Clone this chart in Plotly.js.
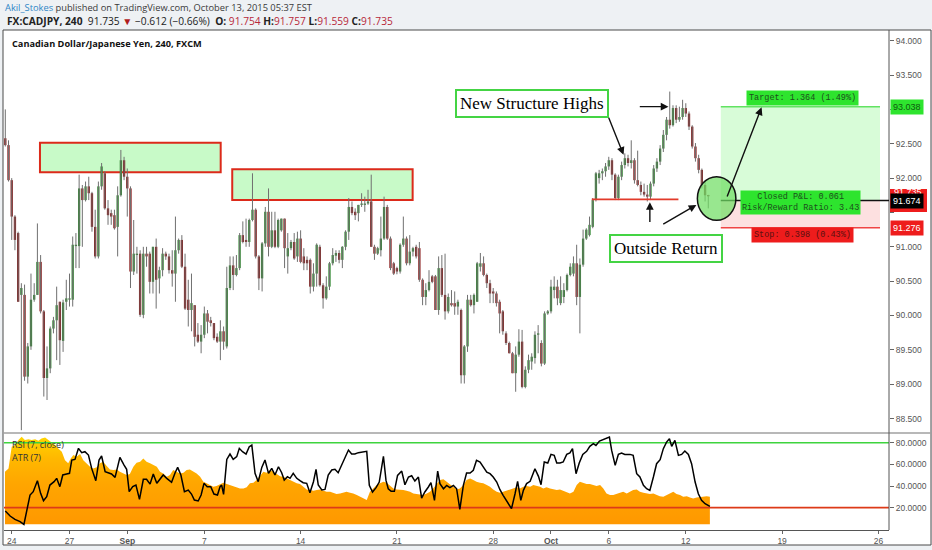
<!DOCTYPE html>
<html>
<head>
<meta charset="utf-8">
<script src="https://cdn.plot.ly/plotly-3.0.1.min.js"></script>
<style>
html,body{margin:0;padding:0;background:#eef1f4;}
#chart{width:932px;height:550px;}
</style>
</head>
<body>
<div id="chart"></div>
<script>
// ---------- data (4h bars, FX:CADJPY, Aug 24 - Oct 13 2015) ----------
const barOpen = [
92.58,92.48,91.97,91.44,91.20,90.30,90.30,89.11,89.55,90.23,
90.30,90.78,90.06,89.09,89.23,89.81,89.93,90.20,89.63,90.20,
90.23,90.23,91.01,91.01,91.85,91.68,91.88,91.78,91.29,90.86,
91.88,92.07,91.56,91.49,91.46,91.29,91.75,92.26,92.02,91.85,
90.64,90.88,90.90,90.01,90.90,90.90,90.49,91.00,90.54,90.66,
90.90,90.86,90.66,90.61,90.95,91.10,90.71,90.23,90.08,90.15,
89.72,89.62,89.72,90.03,89.93,89.89,89.69,89.62,89.77,89.55,
90.40,90.73,90.59,90.69,91.17,91.10,91.07,91.39,91.54,90.86,
90.54,91.05,91.51,91.00,91.24,91.00,91.24,91.41,90.86,90.98,
91.07,90.86,91.12,90.86,90.81,90.81,90.42,90.61,91.00,90.44,
90.25,90.42,90.76,90.87,90.91,90.81,91.00,91.22,91.58,91.51,
91.49,91.61,91.61,91.63,91.66,91.00,90.90,90.95,91.12,91.58,
91.12,90.76,90.69,90.64,91.03,91.12,90.76,90.93,91.00,90.98,
90.52,90.27,90.37,90.57,90.57,90.08,90.69,90.30,90.06,90.18,
90.18,90.13,90.08,89.13,89.55,90.23,90.15,90.20,90.71,90.76,
90.59,90.47,90.35,90.32,90.20,90.06,89.74,89.60,89.45,89.16,
89.43,89.62,88.96,89.21,89.33,89.38,89.72,89.60,89.30,90.03,
90.06,90.37,90.42,90.18,90.27,90.37,90.59,90.61,90.76,90.27,
90.74,91.12,91.17,91.29,91.68,92.00,92.07,92.10,92.17,92.26,
92.05,91.71,92.02,92.19,92.29,92.22,92.26,91.97,91.90,91.80,
91.76,91.73,91.92,92.14,92.24,92.43,92.63,92.85,92.77,93.02,
92.85,92.89,93.02,92.94,92.75,92.46,92.29,92.12,91.90,91.754
];
const barHigh = [
93.00,92.55,92.00,91.46,91.22,90.47,90.45,89.60,90.61,90.47,
91.34,90.88,90.08,89.55,89.84,89.98,90.42,90.20,90.23,90.52,
90.61,91.15,91.20,92.05,91.90,91.95,92.02,91.80,91.54,91.95,
92.22,92.10,91.68,91.54,91.54,91.88,92.41,92.31,92.14,91.88,
91.39,91.00,90.95,91.00,91.00,90.93,91.00,91.12,90.71,90.98,
90.93,90.90,90.95,91.44,91.12,91.17,90.90,90.52,90.61,90.15,
89.89,89.86,90.13,90.08,89.98,89.89,89.74,89.93,89.84,90.71,
90.86,90.86,90.88,91.20,91.37,91.41,91.41,92.07,91.56,90.88,
91.07,91.58,91.85,91.51,91.51,91.41,91.41,91.41,91.20,91.10,
91.20,91.22,91.24,90.98,90.86,90.83,90.76,91.05,91.03,90.47,
90.57,90.78,90.98,90.95,90.95,91.01,91.24,91.71,91.66,91.56,
91.61,91.78,91.73,91.83,92.05,91.03,91.00,91.44,91.73,91.61,
91.15,90.78,90.71,91.05,91.44,91.15,91.17,91.00,91.03,91.07,
90.54,90.47,90.66,90.59,90.59,90.86,90.88,90.90,90.32,90.37,
90.35,90.23,90.10,89.57,90.30,90.30,90.32,90.78,90.91,90.86,
90.61,90.52,90.40,90.35,90.23,90.08,89.77,89.62,89.47,89.55,
89.80,89.79,89.26,89.43,89.45,89.77,89.86,89.64,90.06,90.08,
90.52,90.57,90.52,90.57,90.47,90.61,90.76,90.86,91.03,90.83,
91.25,91.27,91.44,91.71,92.09,92.12,92.14,92.22,92.31,92.29,
92.07,92.05,92.24,92.36,92.34,92.55,92.29,92.40,91.95,91.92,
91.90,91.95,92.19,92.29,92.48,92.70,92.89,93.26,93.06,93.06,
93.04,93.14,93.09,92.97,92.77,92.51,92.34,92.14,91.95,91.757
];
const barLow = [
92.46,91.95,91.10,90.95,90.20,88.33,89.05,89.01,89.50,90.20,
90.30,90.03,88.82,88.77,89.16,89.74,89.35,89.28,89.47,90.08,
90.13,90.13,90.69,90.69,91.00,91.66,91.68,91.22,90.83,90.83,
91.83,91.54,91.32,91.32,91.25,90.86,91.73,91.97,91.44,90.40,
90.59,90.61,89.98,89.96,90.71,90.32,90.32,90.10,90.32,90.57,
90.81,90.61,90.42,90.20,90.90,90.69,90.08,89.84,89.77,89.55,
89.60,89.45,89.67,89.74,89.84,89.64,89.60,89.35,89.50,89.52,
90.37,90.37,90.57,90.66,91.05,91.00,91.00,91.37,90.83,90.37,
90.35,91.00,90.86,90.98,90.98,90.98,91.22,90.69,90.61,90.95,
90.81,90.78,90.76,90.66,90.66,90.32,90.35,90.42,90.42,90.10,
90.23,90.37,90.73,90.78,90.76,90.69,90.95,91.10,91.46,91.39,
91.37,91.58,91.51,91.61,91.00,90.81,90.88,90.86,91.10,91.10,
90.66,90.59,90.60,90.61,91.00,90.73,90.73,90.86,90.83,90.49,
90.15,90.15,90.35,90.47,90.08,90.01,90.27,89.94,90.03,90.13,
90.01,90.01,89.01,89.01,89.47,90.13,90.03,90.20,90.64,90.57,
90.40,90.18,90.18,90.13,89.74,89.72,89.57,89.45,89.16,88.89,
89.40,88.94,88.94,89.16,89.21,89.30,89.45,89.26,89.28,90.01,
90.03,90.25,90.15,90.15,90.18,90.35,90.57,90.57,90.15,89.74,
90.71,91.10,91.15,91.27,91.66,91.92,91.97,92.02,92.12,91.97,
91.68,91.68,91.97,92.14,92.17,92.14,91.92,91.88,91.75,91.73,
91.66,91.68,91.88,92.09,92.19,92.38,92.55,92.72,92.75,92.80,
92.82,92.85,92.89,92.70,92.43,92.24,92.07,91.85,91.66,91.559
];
const barClose = [
92.48,91.97,91.44,91.10,90.20,90.40,89.11,89.55,90.23,90.30,
90.78,90.06,89.09,89.23,89.81,89.93,90.15,89.64,90.19,90.25,
90.25,91.03,91.03,91.85,91.68,91.88,91.78,91.29,90.86,91.88,
92.17,91.56,91.46,91.44,91.27,91.75,92.26,92.02,91.85,90.64,
90.90,90.90,90.01,90.90,90.86,90.49,91.00,90.52,90.66,90.90,
90.86,90.66,90.61,90.95,91.10,90.71,90.10,90.08,90.18,89.69,
89.62,89.72,90.03,89.91,89.89,89.67,89.62,89.77,89.62,90.40,
90.73,90.59,90.69,91.17,91.07,91.07,91.39,91.54,90.86,90.54,
91.05,91.51,91.00,91.24,91.00,91.39,91.41,90.98,90.98,91.07,
90.83,91.12,90.78,90.76,90.76,90.42,90.61,91.03,90.44,90.25,
90.42,90.76,90.88,90.91,90.81,91.00,91.22,91.58,91.49,91.46,
91.61,91.63,91.63,91.66,91.00,90.90,90.98,91.12,91.58,91.12,
90.69,90.61,90.64,91.03,91.12,90.76,90.93,90.98,90.86,90.52,
90.27,90.37,90.49,90.49,90.08,90.69,90.30,90.06,90.27,90.15,
90.13,90.20,89.13,89.55,90.23,90.15,90.30,90.76,90.76,90.59,
90.47,90.32,90.32,90.18,90.03,89.77,89.60,89.45,89.16,89.43,
89.62,88.96,89.21,89.35,89.40,89.72,89.74,89.30,90.03,90.06,
90.42,90.42,90.25,90.37,90.37,90.59,90.71,90.76,90.27,90.74,
91.12,91.25,91.32,91.68,92.07,92.07,92.10,92.17,92.26,92.05,
91.71,92.02,92.19,92.29,92.22,92.26,91.97,91.90,91.80,91.76,
91.73,91.92,92.14,92.24,92.43,92.63,92.85,92.77,93.02,92.85,
92.89,93.02,92.94,92.75,92.46,92.29,92.12,91.90,91.75,91.735
];

// RSI(7, close) readings: [bar, value]
const rsiPoints = [
[0,16.9],[1.5,12.3],[3,9.2],[4.6,7.1],[5.8,4.6],[6.7,16.3],[7.7,31.7],[8.7,34.8],[10,44.9],[11,33.2],
[11.9,26.5],[12.9,30.2],[13.9,40.9],[15.2,44.0],[16,47.1],[17,39.4],[17.9,50.2],[19.1,51.1],[20,51.7],[20.7,64.0],
[21.7,64.6],[22.8,74.8],[23.8,70.8],[24.8,71.7],[25.9,68.6],[26.9,56.3],[28.2,44.9],[29.2,64.0],[30,67.7],[31.1,53.2],
[32.1,52.3],[33.1,51.1],[34.2,48.0],[35.7,66.5],[37,59.4],[37.8,55.4],[38.6,34.8],[39.7,39.4],[40.7,40.9],[41.8,27.7],
[43,46.2],[44,46.2],[45.1,41.8],[46.1,51.1],[47.2,42.5],[48.2,46.2],[49.2,50.2],[50.3,47.1],[51.8,43.4],[52.9,52.3],
[53.7,57.2],[54.7,50.2],[55.8,34.8],[57,36.3],[58,32.6],[58.9,27.1],[60.1,26.2],[61,31.7],[61.9,42.5],[62.9,39.4],
[64,39.4],[65,32.6],[66.1,31.7],[66.9,39.4],[67.4,40.9],[68,32.3],[69,64.6],[70,69.5],[71,64.6],[72.1,67.1],
[72.9,74.8],[73.9,71.7],[75,69.5],[76,76.3],[76.8,77.8],[77.8,51.7],[78.8,44.0],[79.9,57.2],[80.9,64.0],[82,51.7],
[83,56.3],[84,50.2],[85.1,57.8],[86.1,52.3],[86.9,45.5],[87.9,48.6],[88.7,47.1],[89.7,51.7],[90.8,47.1],[91.8,44.9],
[92.8,43.1],[93.9,42.5],[94.9,33.8],[96,44.0],[96.8,55.4],[97.5,40.9],[98.6,36.3],[99.6,36.9],[100.6,50.2],[101.7,54.8],
[102.7,55.4],[103.7,52.3],[104.8,59.4],[105.8,67.1],[106.9,73.2],[107.9,69.5],[108.9,69.5],[110,70.8],[111,71.4],[112.6,72.0],
[113.4,40.6],[114.4,34.5],[115.5,38.5],[116.5,43.7],[117.8,67.4],[118.6,45.2],[119.3,37.5],[120.2,35.1],[121.2,35.1],[122.2,49.8],
[123.5,53.8],[124.5,41.2],[125.6,48.3],[126.6,49.5],[127.6,44.6],[128.7,48.3],[129.7,28.9],[130.7,34.5],[131.8,39.1],[132.6,43.1],
[133.7,26.8],[134.7,53.8],[135.4,42.2],[136.5,37.5],[137.5,40.6],[138.5,38.5],[139.6,40.6],[140.6,37.5],[141.6,18.5],[142.7,40.6],
[143.7,52.0],[144.8,52.0],[145.8,54.5],[146.8,63.7],[147.9,62.2],[148.9,57.5],[150,52.9],[151,51.4],[152,48.3],[153.1,43.7],
[154.1,36.6],[155.1,31.4],[156.2,25.8],[157.7,19.1],[158.8,32.9],[159.6,44.3],[160.6,26.8],[161.4,36.0],[162.4,42.2],[163.5,44.3],
[165,56.0],[166.1,48.9],[166.9,41.2],[167.9,62.2],[169,61.2],[170,69.2],[171,68.3],[171.8,61.2],[172.8,61.2],[173.8,62.2],
[174.9,69.2],[175.9,70.5],[176.7,74.5],[177.8,51.4],[178.8,61.2],[179.9,69.2],[181.1,72.0],[182.1,76.6],[183.2,79.1],[184,77.5],
[185.1,81.5],[186.3,82.8],[187.3,83.7],[188.2,85.2],[188.9,72.9],[190,59.1],[191,69.2],[192,70.5],[193,69.2],[194.6,69.2],
[195.6,68.3],[196.7,51.4],[197.7,48.3],[198.8,40.6],[199.8,37.5],[200.8,36.0],[201.9,48.3],[202.9,60.6],[204,64.3],[205,74.5],
[206,80.6],[206.9,83.7],[207.6,76.6],[208.6,82.2],[209.7,68.3],[210.7,69.2],[211.7,72.3],[212.8,69.2],[213.8,60.6],[214.9,43.7],
[215.9,32.9],[216.9,26.8],[218,23.7],[219.5,21.2]
];

// ATR(7) readings: [bar, value]
const atrPoints = [
[-0.1,0.329],[1,0.349],[2,0.485],[3,0.495],[4.1,0.527],[5.1,0.547],[6.1,0.527],[7.2,0.531],[8.2,0.527],[9.3,0.531],
[10.3,0.522],[11.3,0.537],[12.4,0.543],[13.4,0.527],[14.4,0.516],[15.5,0.495],[16.5,0.474],[17.6,0.454],[18.6,0.401],[19.6,0.381],
[20.4,0.412],[21.2,0.433],[22.2,0.422],[23.3,0.439],[24.3,0.401],[25.3,0.381],[26.4,0.360],[27.4,0.349],[28.5,0.356],[29.5,0.381],
[30.5,0.391],[31.6,0.364],[32.6,0.343],[33.7,0.339],[34.7,0.343],[35.7,0.329],[36.8,0.318],[37.8,0.308],[38.8,0.314],[39.9,0.360],
[40.9,0.385],[42,0.391],[43,0.412],[44,0.391],[45.1,0.381],[46.1,0.370],[47.2,0.360],[48.2,0.329],[49.2,0.318],[50.3,0.297],
[51.3,0.308],[52.3,0.339],[53.4,0.329],[54.4,0.318],[55.5,0.322],[56.5,0.339],[57.5,0.343],[58.6,0.329],[59.6,0.318],[60.7,0.297],
[61.7,0.266],[62.7,0.256],[63.8,0.245],[64.8,0.235],[65.8,0.239],[66.9,0.252],[67.9,0.260],[69,0.252],[70,0.245],[71,0.239],
[72.1,0.231],[73.1,0.224],[74.2,0.224],[75.2,0.231],[76.2,0.256],[77.3,0.260],[78.3,0.277],[79.3,0.301],[80.4,0.329],[81.4,0.322],
[82.5,0.339],[83.5,0.329],[84.5,0.318],[85.6,0.301],[86.6,0.297],[87.6,0.287],[88.7,0.277],[89.7,0.266],[90.8,0.256],[91.8,0.252],
[92.8,0.235],[93.9,0.218],[94.9,0.214],[96,0.210],[97,0.214],[98,0.218],[99.1,0.210],[100.1,0.204],[101.2,0.204],[102.2,0.197],
[103.2,0.189],[104.3,0.193],[105.3,0.197],[106.3,0.204],[107.4,0.197],[108.4,0.193],[109.5,0.183],[110.5,0.172],[111.5,0.162],[112.6,0.152],
[113.6,0.204],[114.6,0.224],[115.7,0.245],[116.7,0.256],[117.8,0.266],[118.8,0.260],[119.8,0.245],[120.9,0.224],[121.9,0.218],[123,0.218],
[124,0.214],[125,0.210],[126.1,0.204],[127.1,0.193],[128.1,0.189],[129.2,0.183],[130.2,0.183],[131.3,0.193],[132.3,0.204],[133.3,0.224],
[134.4,0.256],[135.4,0.277],[136.5,0.281],[137.5,0.266],[138.5,0.252],[139.6,0.235],[140.6,0.218],[141.6,0.224],[142.7,0.245],[143.7,0.277],
[144.8,0.287],[145.8,0.277],[146.8,0.266],[147.9,0.260],[148.9,0.256],[150,0.245],[151,0.235],[152,0.218],[153.1,0.204],[154.1,0.197],
[155.1,0.204],[156.2,0.214],[157.2,0.218],[158.3,0.224],[159.3,0.231],[160.3,0.224],[161.4,0.235],[162.4,0.239],[163.5,0.235],[164.5,0.245],
[165.5,0.239],[166.6,0.235],[167.6,0.224],[168.6,0.231],[169.7,0.224],[170.7,0.218],[171.8,0.214],[172.8,0.218],[173.8,0.210],[174.9,0.204],
[175.9,0.193],[177,0.204],[178,0.245],[179,0.266],[180.1,0.260],[181.1,0.252],[182.1,0.252],[183.2,0.245],[184.2,0.239],[185.3,0.245],
[186.3,0.224],[187.3,0.193],[188.4,0.183],[189.4,0.183],[190.5,0.193],[191.5,0.197],[192.5,0.204],[193.6,0.193],[194.6,0.204],[195.6,0.214],
[196.7,0.218],[197.7,0.204],[198.8,0.197],[199.8,0.193],[200.8,0.189],[201.9,0.193],[202.9,0.183],[203.9,0.176],[205,0.172],[206,0.183],
[207.1,0.197],[208.1,0.204],[209.1,0.189],[210.2,0.183],[211.2,0.172],[212.3,0.176],[213.3,0.168],[214.3,0.162],[215.4,0.168],[216.4,0.172],
[217.5,0.172],[218.5,0.176],[219.5,0.172]
];

// time-axis labels (bar positions of day starts)
const dayTickBars = [2,20,38,62,92,122,152,170,188,212,242,272];
const dayTickText = ['24','27','<b>Sep</b>','7','14','21','28','<b>Oct</b>','6','12','19','26'];
const priceTicks = [88.5,89,89.5,90,90.5,91,91.5,92,92.5,93,93.5,94];
// labels hidden under the position-tool price tags in the reference
const priceTickText = ['88.500','89.000','89.500','90.000','90.500','91.000','','92.000','92.500','','93.500','94.000'];
const rsiTicks = [20,40,60,80];
const rsiLevels = {upper:80, lower:20};

// drawings (in bar / price units)
const structureZones = [
  {from:10.8, to:67.1, low:92.084, high:92.515},
  {from:70.7, to:126.9, low:91.681, high:92.128}
];
const supportLine = {from:182.7, to:209.7, price:91.69};
const trade = {from:222.9, to:272.5, entry:91.674, target:93.038, stop:91.276, last:91.735};
const returnCircle = {bar:221.6, price:91.703, halfBars:6.0, halfPrice:0.318};
const arrows = [
  {fromBar:187.8, fromPrice:92.90, toBar:192.6, toPrice:92.34},
  {fromBar:197.2, fromPrice:93.04, toBar:206.6, toPrice:93.04},
  {fromBar:200.8, fromPrice:91.34, toBar:200.8, toPrice:91.65},
  {fromBar:204.5, fromPrice:91.317, toBar:215.3, toPrice:91.61},
  {fromBar:224.7, fromPrice:91.71, toBar:235.6, toPrice:93.03}
];

// ---------- build ----------
const X_MIN = -0.405, X_MAX = 275.3;
const UP = '#368a36', DOWN = '#8a1c1c';
const barIndex = barOpen.map((_, i) => i);
const wickX = [], wickY = [];
barIndex.forEach(i => { wickX.push(i, i, null); wickY.push(barLow[i], barHigh[i], null); });
const bodyBase = barIndex.map(i => Math.min(barOpen[i], barClose[i]));
const bodySize = barIndex.map(i => Math.max(Math.abs(barClose[i] - barOpen[i]), 0.012));
const bodyColor = barIndex.map(i => barClose[i] >= barOpen[i] ? UP : DOWN);

const traces = [
  {type:'scatter', mode:'lines', x:wickX, y:wickY, xaxis:'x', yaxis:'y',
   line:{color:'#707070', width:1}, hoverinfo:'skip', connectgaps:false},
  {type:'bar', x:barIndex, y:bodySize, base:bodyBase, width:0.72, xaxis:'x', yaxis:'y',
   marker:{color:bodyColor, line:{width:0}}, hoverinfo:'skip'},
  {type:'scatter', mode:'lines', x:atrPoints.map(p=>p[0]), y:atrPoints.map(p=>p[1]), xaxis:'x', yaxis:'y2',
   fill:'tozeroy', line:{width:0, color:'#ffa800'}, fillcolor:'#ffa800',
   fillgradient:{type:'vertical', start:0, stop:0.55,
     colorscale:[[0,'#ff9800'],[0.45,'#ffa500'],[0.75,'#ffb800'],[1,'#ffd500']]},
   hoverinfo:'skip'},
  {type:'scatter', mode:'lines', x:[X_MIN, X_MAX], y:[rsiLevels.upper, rsiLevels.upper], xaxis:'x', yaxis:'y3',
   line:{color:'#3ed43e', width:1.6}, hoverinfo:'skip'},
  {type:'scatter', mode:'lines', x:[X_MIN, X_MAX], y:[rsiLevels.lower, rsiLevels.lower], xaxis:'x', yaxis:'y3',
   line:{color:'#dd3a18', width:1.8}, hoverinfo:'skip'},
  {type:'scatter', mode:'lines', x:rsiPoints.map(p=>p[0]), y:rsiPoints.map(p=>p[1]), xaxis:'x', yaxis:'y3',
   line:{color:'#000000', width:1.5}, hoverinfo:'skip'}
];

// paper helpers (plot area: 4..889 px wide, 30..530 px tall)
const px = v => (v - 4) / 885;
const py = v => (530 - v) / 500;

const shapes = [
  {type:'rect', xref:'paper', yref:'paper', x0:px(3), x1:px(931), y0:py(545), y1:py(30),
   fillcolor:'#ffffff', line:{color:'#4a4a4a', width:1}, layer:'below'},
  {type:'line', xref:'paper', yref:'paper', x0:px(3), x1:px(931), y0:py(433), y1:py(433),
   line:{color:'#a0a0a0', width:1.5}, layer:'below'},
  {type:'line', xref:'paper', yref:'paper', x0:1, x1:1, y0:0, y1:1,
   line:{color:'#555555', width:1}, layer:'above'}
];
structureZones.forEach(z => shapes.push({type:'rect', xref:'x', yref:'y', x0:z.from, x1:z.to, y0:z.low, y1:z.high,
  fillcolor:'#c8fac8', line:{color:'#dc2a1a', width:2}, layer:'below'}));
shapes.push(
  {type:'rect', xref:'x', yref:'y', x0:trade.from, x1:trade.to, y0:trade.entry, y1:trade.target,
   fillcolor:'#d8fcd8', line:{width:0}, layer:'below'},
  {type:'rect', xref:'x', yref:'y', x0:trade.from, x1:trade.to, y0:trade.stop, y1:trade.entry,
   fillcolor:'#fde0e0', line:{width:0}, layer:'below'},
  {type:'line', xref:'x', yref:'y', x0:trade.from, x1:trade.to, y0:trade.target, y1:trade.target,
   line:{color:'#62e262', width:1.5}, layer:'below'},
  {type:'line', xref:'x', yref:'y', x0:trade.from, x1:trade.to, y0:trade.stop, y1:trade.stop,
   line:{color:'#f04444', width:1.5}, layer:'below'},
  {type:'line', xref:'x', yref:'y', x0:trade.from, x1:X_MAX, y0:trade.entry, y1:trade.entry,
   line:{color:'#111111', width:1.3}, layer:'above'},
  {type:'line', xref:'x', yref:'y', x0:supportLine.from, x1:supportLine.to, y0:supportLine.price, y1:supportLine.price,
   line:{color:'#e23a2a', width:1.6}, layer:'above'},
  {type:'circle', xref:'x', yref:'y',
   x0:returnCircle.bar - returnCircle.halfBars, x1:returnCircle.bar + returnCircle.halfBars,
   y0:returnCircle.price - returnCircle.halfPrice, y1:returnCircle.price + returnCircle.halfPrice,
   fillcolor:'rgba(112,222,100,0.72)', line:{color:'#111111', width:1.5}, layer:'above'},
  {type:'rect', xref:'paper', yref:'y', x0:px(890), x1:px(927), y0:91.508, y1:91.843,
   fillcolor:'#ee1c1c', line:{width:0}, layer:'above'}
);

const HDR = {family:'Open Sans, Liberation Sans, sans-serif', size:9.3, color:'#3a3a3a'};
const MONO = 'Liberation Mono, DejaVu Sans Mono, monospace';
const SERIF = 'Liberation Serif, DejaVu Serif, serif';
const annotations = [
  {xref:'paper', yref:'paper', x:px(3), y:py(8), xanchor:'left', yanchor:'middle', showarrow:false, font:HDR,
   text:'<span style="color:#2f86c6">Akil_Stokes</span> published on TradingView.com, October 13, 2015 05:37 EST'},
  {xref:'paper', yref:'paper', x:px(5), y:py(21), xanchor:'left', yanchor:'middle', showarrow:false,
   font:{family:HDR.family, size:10.2, color:'#222'},
   text:'<b>FX:CADJPY, 240</b>  91.735 <span style="color:#b01c1c">▼</span> −0.612 (−0.66%)  <b>O:</b> <span style="color:#b8283a">91.754</span> <b>H:</b><span style="color:#b8283a">91.757</span> <b>L:</b><span style="color:#b8283a">91.559</span> <b>C:</b><span style="color:#b8283a">91.735</span>'},
  {xref:'paper', yref:'paper', x:px(10), y:py(43), xanchor:'left', yanchor:'middle', showarrow:false,
   font:{family:HDR.family, size:9.2, color:'#111'}, text:'<b>Canadian Dollar/Japanese Yen, 240, FXCM</b>'},
  {xref:'paper', yref:'paper', x:px(10), y:py(444), xanchor:'left', yanchor:'middle', showarrow:false,
   font:{family:HDR.family, size:9, color:'#333'}, text:'RSI (7, close)'},
  {xref:'paper', yref:'paper', x:px(10), y:py(457), xanchor:'left', yanchor:'middle', showarrow:false,
   font:{family:HDR.family, size:9, color:'#333'}, text:'ATR (7)'},
  {xref:'x', yref:'y', x:164.1, y:93.093, showarrow:false, text:'New Structure Highs',
   font:{family:SERIF, size:17, color:'#000'}, bgcolor:'#ffffff', bordercolor:'#44d444', borderwidth:2, borderpad:3},
  {xref:'x', yref:'y', x:205.8, y:90.98, showarrow:false, text:'Outside Return',
   font:{family:SERIF, size:17, color:'#000'}, bgcolor:'#ffffff', bordercolor:'#44d444', borderwidth:2, borderpad:3},
  {xref:'x', yref:'y', x:248.5, y:93.17, showarrow:false, text:'Target: 1.364 (1.49%)',
   font:{family:MONO, size:8.5, color:'#1c4f1c'}, bgcolor:'#2ee42e', borderpad:2},
  {xref:'x', yref:'y', x:247.6, y:91.64, showarrow:false, text:'Closed P&L: 0.061<br>Risk/Reward Ratio: 3.43',
   font:{family:MONO, size:8.5, color:'#1c4f1c'}, bgcolor:'#2ee42e', borderpad:1},
  {xref:'x', yref:'y', x:248.2, y:91.165, showarrow:false, text:'Stop: 0.398 (0.43%)',
   font:{family:MONO, size:8.5, color:'#5a1010'}, bgcolor:'#ee1c1c', borderpad:2},
  {xref:'paper', yref:'y', x:px(890), y:trade.target, xanchor:'left', showarrow:false, text:trade.target.toFixed(3),
   font:{family:'Liberation Sans', size:9, color:'#0e5a0e'}, bgcolor:'#2ee42e', borderpad:2},
  {xref:'paper', yref:'y', x:px(891), y:trade.last + 0.06, xanchor:'left', showarrow:false, text:trade.last.toFixed(3),
   font:{family:'Liberation Sans', size:9, color:'#ffffff'}, borderpad:2},
  {xref:'paper', yref:'y', x:px(890), y:trade.entry, xanchor:'left', showarrow:false, text:trade.entry.toFixed(3),
   font:{family:'Liberation Sans', size:9, color:'#ffffff'}, bgcolor:'#000000', borderpad:2},
  {xref:'paper', yref:'y', x:px(890), y:trade.stop, xanchor:'left', showarrow:false, text:trade.stop.toFixed(3),
   font:{family:'Liberation Sans', size:9, color:'#ffffff'}, bgcolor:'#ee1c1c', borderpad:2}
];
arrows.forEach(a => annotations.push({xref:'x', yref:'y', axref:'x', ayref:'y',
  x:a.toBar, y:a.toPrice, ax:a.fromBar, ay:a.fromPrice, text:'', showarrow:true,
  arrowhead:2, arrowsize:1.1, arrowwidth:1.4, arrowcolor:'#111111', standoff:0}));

const AX_FONT = {family:'Liberation Sans, Arial, sans-serif', size:8.5, color:'#555555'};
const layout = {
  width:932, height:550,
  margin:{l:4, r:43, t:30, b:20},
  paper_bgcolor:'#eef1f4', plot_bgcolor:'#ffffff',
  showlegend:false, barmode:'overlay',
  font:{family:'Liberation Sans, Arial, sans-serif'},
  xaxis:{range:[X_MIN, X_MAX], anchor:'y2', tickmode:'array', tickvals:dayTickBars, ticktext:dayTickText,
    ticks:'outside', ticklen:3, tickcolor:'#666', tickfont:AX_FONT, showgrid:false, zeroline:false,
    showline:true, linecolor:'#555', linewidth:1, fixedrange:true},
  yaxis:{domain:[0.196, 1], range:[88.304, 94.156], anchor:'x', side:'right', tickmode:'array',
    tickvals:priceTicks, ticktext:priceTickText, ticks:'outside', ticklen:4, tickcolor:'#666',
    tickfont:AX_FONT, showgrid:false, zeroline:false, showline:false, fixedrange:true},
  yaxis2:{domain:[0, 0.194], range:[-0.0356, 0.5706], anchor:'x', visible:false, fixedrange:true},
  yaxis3:{overlaying:'y2', range:[-0.59, 88.95], anchor:'x', side:'right', tickmode:'array',
    tickvals:rsiTicks, tickformat:'.4f', ticks:'outside', ticklen:4, tickcolor:'#666',
    tickfont:AX_FONT, showgrid:false, zeroline:false, showline:false, fixedrange:true},
  shapes:shapes,
  annotations:annotations
};

Plotly.newPlot('chart', traces, layout, {staticPlot:true, displayModeBar:false});
</script>
</body>
</html>
